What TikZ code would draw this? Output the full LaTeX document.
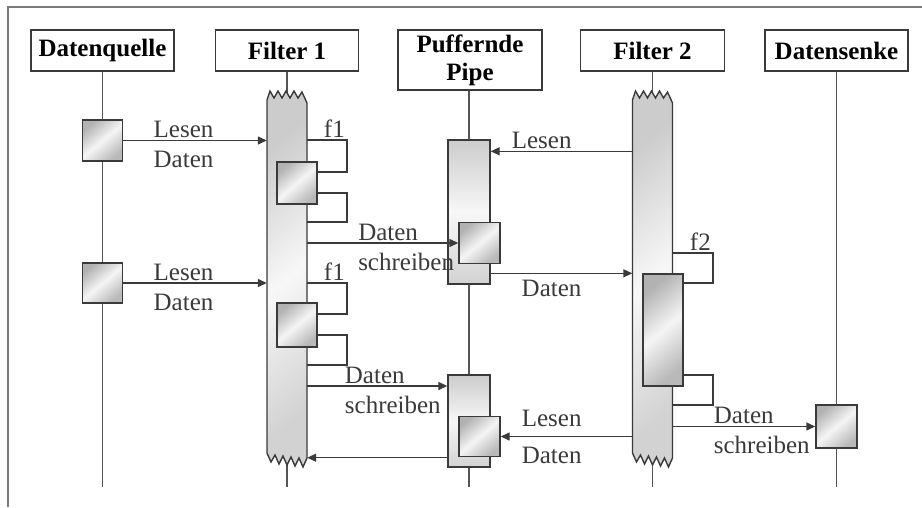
\documentclass[tikz,border=0pt]{standalone}
\usepackage{fontspec}
\setmainfont{Liberation Serif}
\usepackage{tikz}
\usetikzlibrary{arrows.meta,positioning,calc}
\definecolor{ink}{HTML}{3A3A3A}
\definecolor{frame}{HTML}{7A7A7A}
\definecolor{life}{HTML}{555555}

% filter bar with torn ends: name, x
\newcommand{\zigbar}[2]{%
\begin{scope}[shift={(#2,0)}]
\draw[bar] (-20,100) -- (-17,91) -- (-13,98) -- (-9,91) -- (-5,98) -- (-1,91) -- (3,98) -- (7,91) -- (11,98) -- (15,92) -- (20,103) -- (20,458) -- (16,467) -- (12,458) -- (8,466) -- (4,457) -- (0,465) -- (-4,456) -- (-8,464) -- (-12,455) -- (-16,462) -- (-20,453) -- cycle;
\node[inner sep=0pt,minimum width=40pt,minimum height=358pt] (#1) at (0,279) {};
\end{scope}}

\begin{document}
\begin{tikzpicture}[x=1pt,y=-1pt,
 head/.style={draw=ink,line width=1.6pt,fill=white,inner sep=0pt,font=\bfseries\fontsize{25}{28}\selectfont,align=center},
 lifeline/.style={draw=life,line width=1.4pt},
 bar/.style={draw=ink,line width=1.4pt,top color=gray!40,bottom color=gray!35,middle color=gray!6,shading angle=40},
 act/.style={draw=ink,line width=1.4pt,inner sep=0pt,top color=gray!60,bottom color=gray!55,middle color=gray!8,shading angle=40},
 msg/.style={draw=ink,line width=1.4pt,-{Triangle[length=9pt,width=8pt]}},
 selfcall/.style={draw=ink,line width=1.4pt},
 lbl/.style={text=ink,inner sep=2pt,font=\fontsize{25}{27}\selectfont}]
\useasboundingbox (0,0) rectangle (922,507);
\draw[frame,line width=2pt] (8,507) -- (8,7) -- (922,7);

% heads
\node[head,minimum width=143pt,minimum height=41pt] (src) at (102.5,50.5) {Datenquelle};
\node[head,minimum width=143pt,minimum height=41pt] (filt1) at (287,50.5) {Filter 1};
\node[head,minimum width=144pt,minimum height=60pt] (pipe) at (470,60) {Puffernde\\Pipe};
\node[head,minimum width=144pt,minimum height=41pt] (filt2) at (652.5,50.5) {Filter 2};
\node[head,minimum width=143pt,minimum height=41pt] (sink) at (836.5,50.5) {Datensenke};

% lifelines
\coordinate (bot) at (0,487);
\draw[lifeline] (src) -- (src |- bot);
\draw[lifeline] (filt1) -- (filt1 |- bot);
\draw[lifeline] ([xshift=-1pt]pipe.south) -- ([xshift=-1pt]pipe.south |- bot);
\draw[lifeline] (filt2) -- (filt2 |- bot);
\draw[lifeline] (sink) -- (sink |- bot);

% bars
\zigbar{f1bar}{287}
\zigbar{f2bar}{652.5}
\node[act,top color=gray!40,bottom color=gray!35,middle color=gray!6,minimum width=42pt,minimum height=144pt] (p1bar) at (469,212) {};
\node[act,top color=gray!40,bottom color=gray!35,middle color=gray!6,minimum width=42pt,minimum height=92pt] (p2bar) at (469,421) {};

% activations
\node[act,minimum width=40pt,minimum height=41pt] (q1) at (102.5,140.5) {};
\node[act,minimum width=40pt,minimum height=40pt] (q2) at (102.5,283) {};
\node[act,minimum width=40pt,minimum height=42pt] (a1) at (297,183) {};
\node[act,minimum width=40pt,minimum height=44pt] (a2) at (297,325) {};
\node[act,minimum width=41pt,minimum height=41pt] (p1box) at (479.5,243) {};
\node[act,minimum width=41pt,minimum height=40pt] (p2box) at (479.5,436.5) {};
\node[act,minimum width=40pt,minimum height=112pt] (b1) at (663,330) {};
\node[act,minimum width=41pt,minimum height=43pt] (s1) at (836.5,426.5) {};

% self calls
\coordinate (l1a) at (347,140); \coordinate (l1b) at (347,172);
\coordinate (l2a) at (347,193); \coordinate (l2b) at (347,222);
\coordinate (l3a) at (347,283); \coordinate (l3b) at (347,314);
\coordinate (l4a) at (347,335); \coordinate (l4b) at (347,365);
\coordinate (m1a) at (713,253); \coordinate (m1b) at (713,283);
\coordinate (m2a) at (713,375); \coordinate (m2b) at (713,405);
\draw[selfcall] (l1a -| f1bar.east) -- (l1a) -- (l1b) -- (l1b -| a1.east);
\draw[selfcall] (l2a -| a1.east) -- (l2a) -- (l2b) -- (l2b -| f1bar.east);
\draw[selfcall] (l3a -| f1bar.east) -- (l3a) -- (l3b) -- (l3b -| a2.east);
\draw[selfcall] (l4a -| a2.east) -- (l4a) -- (l4b) -- (l4b -| f1bar.east);
\draw[selfcall] (m1a -| f2bar.east) -- (m1a) -- (m1b) -- (m1b -| b1.east);
\draw[selfcall] (m2a -| b1.east) -- (m2a) -- (m2b) -- (m2b -| f2bar.east);
\node[lbl,above left=0pt and 0pt of l1a] (f1lbl) {f1};
\node[lbl,above left=0pt and 0pt of l3a] (f1lblb) {f1};
\node[lbl,above left=0pt and 0pt of m1a] (f2lbl) {f2};

% messages
\draw[msg] (q1.east) -- (q1.east -| f1bar.west) node[lbl,pos=.42,above]{Lesen} node[lbl,pos=.42,below=8pt]{Daten};
\draw[msg] (q2.east) -- (q2.east -| f1bar.west) node[lbl,pos=.42,above]{Lesen} node[lbl,pos=.42,below=8pt]{Daten};
\draw[msg] (p1box.west -| f1bar.east) -- (p1box.west) node[lbl,pos=.32,anchor=south west]{Daten} node[lbl,pos=.32,anchor=north west,yshift=-7pt]{schreiben};
\coordinate (w2) at ([yshift=35pt]p2bar.west);
\draw[msg] (w2 -| f1bar.east) -- (w2) node[lbl,pos=.25,anchor=south west]{Daten} node[lbl,pos=.25,anchor=north west,yshift=-7pt]{schreiben};
\coordinate (w1) at ([yshift=-12pt]p1bar.north east);
\draw[msg] (w1 -| f2bar.west) -- (w1) node[lbl,pos=.87,anchor=south west]{Lesen};
\draw[msg] (p1bar.east |- b1.north) -- (f2bar.west |- b1.north) node[lbl,pos=.2,anchor=north west,yshift=-4pt]{Daten};
\draw[msg] (f2bar.west |- p2box.east) -- (p2box.east) node[lbl,pos=.86,anchor=south west,yshift=7pt]{Lesen} node[lbl,pos=.86,anchor=north west,yshift=-8pt]{Daten};
\coordinate (w3) at ([yshift=10pt]p2bar.south west);
\draw[msg] (w3) -- (w3 -| f1bar.east);
\draw[msg] (f2bar.east |- s1.west) -- (s1.west) node[lbl,pos=.27,anchor=south west]{Daten} node[lbl,pos=.27,anchor=north west,yshift=-7pt]{schreiben};
\end{tikzpicture}
\end{document}
